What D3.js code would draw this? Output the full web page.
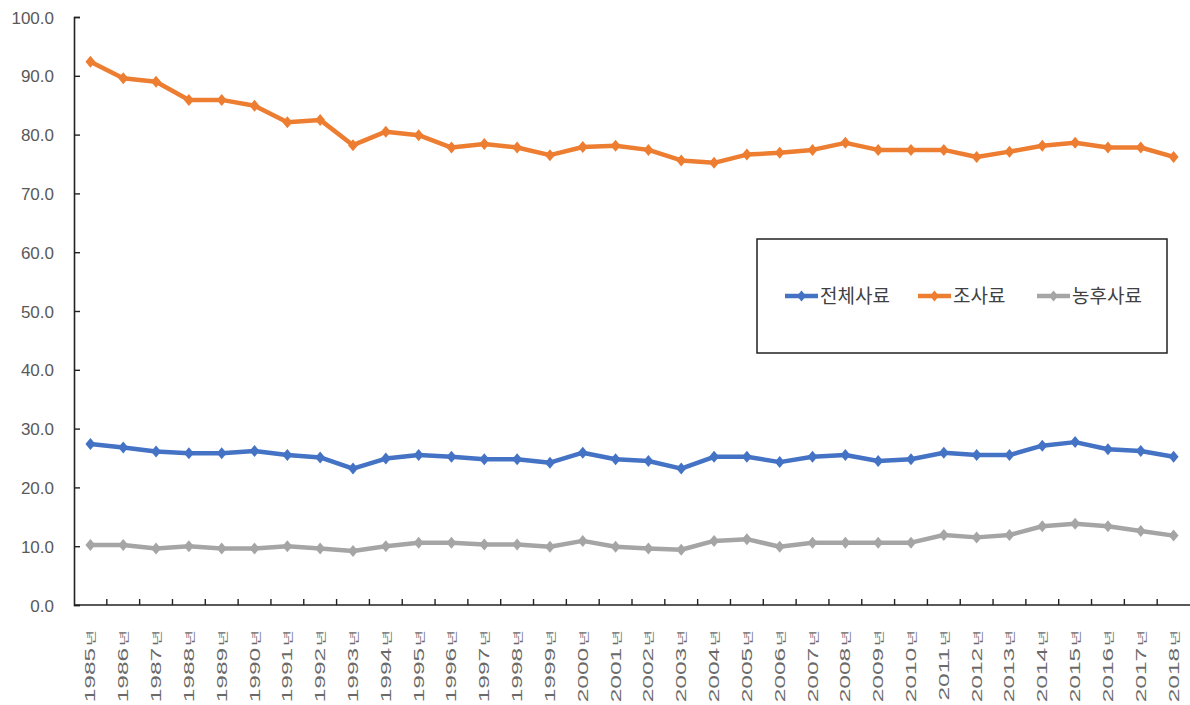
<!DOCTYPE html>
<html>
<head>
<meta charset="utf-8">
<script src="https://cdn.jsdelivr.net/npm/d3@7"></script>
<style>
  html, body { margin: 0; padding: 0; background: #fff; }
  svg { display: block; }
</style>
</head>
<body>
<svg id="chart" width="1190" height="705"></svg>
<script>
// Years on the category axis
const years = [1985,1986,1987,1988,1989,1990,1991,1992,1993,1994,1995,1996,1997,1998,1999,
  2000,2001,2002,2003,2004,2005,2006,2007,2008,2009,2010,2011,2012,2013,2014,2015,2016,2017,2018];

// 전체사료 (total feed)
const totalFeed = [27.4,26.8,26.1,25.8,25.8,26.2,25.5,25.1,23.2,24.9,25.5,25.2,24.8,24.8,24.2,
  25.9,24.8,24.5,23.2,25.2,25.2,24.3,25.2,25.5,24.5,24.8,25.9,25.5,25.5,27.1,27.7,26.5,26.2,25.2];

// 조사료 (roughage)
const roughage = [92.4,89.6,89.0,85.9,85.9,84.9,82.1,82.5,78.2,80.5,79.9,77.8,78.4,77.8,76.5,
  77.9,78.1,77.4,75.6,75.2,76.6,76.9,77.4,78.6,77.4,77.4,77.4,76.2,77.1,78.1,78.6,77.8,77.8,76.2];

// 농후사료 (concentrate)
const concentrate = [10.2,10.2,9.6,10.0,9.6,9.6,10.0,9.6,9.2,10.0,10.6,10.6,10.3,10.3,9.9,
  10.9,9.9,9.6,9.4,10.9,11.2,9.9,10.6,10.6,10.6,10.6,11.9,11.5,11.9,13.4,13.8,13.4,12.6,11.8];

const seriesNames = ["전체사료", "조사료", "농후사료"];
const seriesColors = ["#4472C4", "#ED7D31", "#A5A5A5"];
const yTicks = [0,10,20,30,40,50,60,70,80,90,100];

const series = [totalFeed, roughage, concentrate].map((vals, i) => ({
  name: seriesNames[i], color: seriesColors[i], values: vals
}));

const svg = d3.select("#chart");
const plot = { left: 74, right: 1190, top: 17, bottom: 605 };

const x = d3.scaleBand().domain(years).range([plot.left, plot.right]);
const y = d3.scaleLinear().domain([0, 100]).range([plot.bottom, plot.top]);

// Y axis: ticks pointing into the plot, labels with one decimal
const yAxis = svg.append("g")
  .attr("transform", `translate(${plot.left},0)`)
  .call(d3.axisRight(y).tickValues(yTicks).tickSize(6).tickFormat(d3.format(".1f")));
yAxis.select(".domain").attr("stroke", "#222").attr("stroke-width", 1.6);
yAxis.selectAll(".tick line").attr("stroke", "#222").attr("stroke-width", 1.4);
yAxis.selectAll(".tick text")
  .attr("x", -20).attr("text-anchor", "end").attr("dy", "0.36em")
  .attr("fill", "#595959")
  .style("font-family", "'Liberation Sans', Arial, sans-serif")
  .style("font-size", "17px");

// X axis: tick marks at category boundaries, pointing up
const xAxisG = svg.append("g");
xAxisG.append("line")
  .attr("x1", plot.left).attr("x2", plot.right)
  .attr("y1", y(0)).attr("y2", y(0))
  .attr("stroke", "#222").attr("stroke-width", 1.6);
xAxisG.selectAll("line.tk")
  .data(years.slice(1))
  .join("line")
  .attr("class", "tk")
  .attr("x1", d => x(d)).attr("x2", d => x(d))
  .attr("y1", y(0)).attr("y2", y(0) - 6)
  .attr("stroke", "#222").attr("stroke-width", 1.4);

// Rotated year labels
const lab = xAxisG.selectAll("text.yr")
  .data(years)
  .join("text")
  .attr("class", "yr")
  .attr("transform", d => `translate(${x(d) + x.bandwidth() / 2 + 5},630) rotate(-90) scale(1.75,1)`)
  .attr("text-anchor", "end")
  .attr("fill", "#6a6a6a")
  .style("font-family", "'Liberation Sans', Arial, sans-serif")
  .style("font-size", "14px");
lab.append("tspan").text(d => d);
lab.append("tspan")
  .style("font-family", "'Noto Sans CJK KR', sans-serif")
  .style("font-size", "10px")
  .attr("dx", 1)
  .text("년");

// Lines and diamond markers
const line = d3.line()
  .x((d, i) => x(years[i]) + x.bandwidth() / 2)
  .y(d => y(d));

const diamond = (w, h) => `M0,${-h/2}L${w/2},0L0,${h/2}L${-w/2},0Z`;

const sg = svg.selectAll("g.series")
  .data(series)
  .join("g")
  .attr("class", "series");

sg.append("path")
  .attr("d", d => line(d.values))
  .attr("fill", "none")
  .attr("stroke", d => d.color)
  .attr("stroke-width", 4.5)
  .attr("stroke-linejoin", "round");

sg.each(function(s) {
  d3.select(this).selectAll("path.mk")
    .data(s.values)
    .join("path")
    .attr("class", "mk")
    .attr("d", diamond(10, 12))
    .attr("transform", (d, i) => `translate(${x(years[i]) + x.bandwidth() / 2},${y(d)})`)
    .attr("fill", s.color);
});

// Legend box
const legend = svg.append("g");
legend.append("rect")
  .attr("x", 757).attr("y", 239).attr("width", 410).attr("height", 114)
  .attr("fill", "#fff").attr("stroke", "#222").attr("stroke-width", 1.5);

const legendX = [785, 918, 1037];
const li = legend.selectAll("g.li")
  .data(series)
  .join("g")
  .attr("class", "li")
  .attr("transform", (d, i) => `translate(${legendX[i]},296)`);
li.append("line")
  .attr("x1", 0).attr("x2", 33)
  .attr("stroke", d => d.color).attr("stroke-width", 4.5);
li.append("path")
  .attr("d", diamond(9, 11))
  .attr("transform", "translate(16.5,0)")
  .attr("fill", d => d.color);
li.append("text")
  .attr("x", 35).attr("dy", "0.35em")
  .attr("fill", "#404040")
  .style("font-family", "'Noto Sans CJK KR', sans-serif")
  .style("font-size", "19px")
  .text(d => d.name);
</script>
</body>
</html>
